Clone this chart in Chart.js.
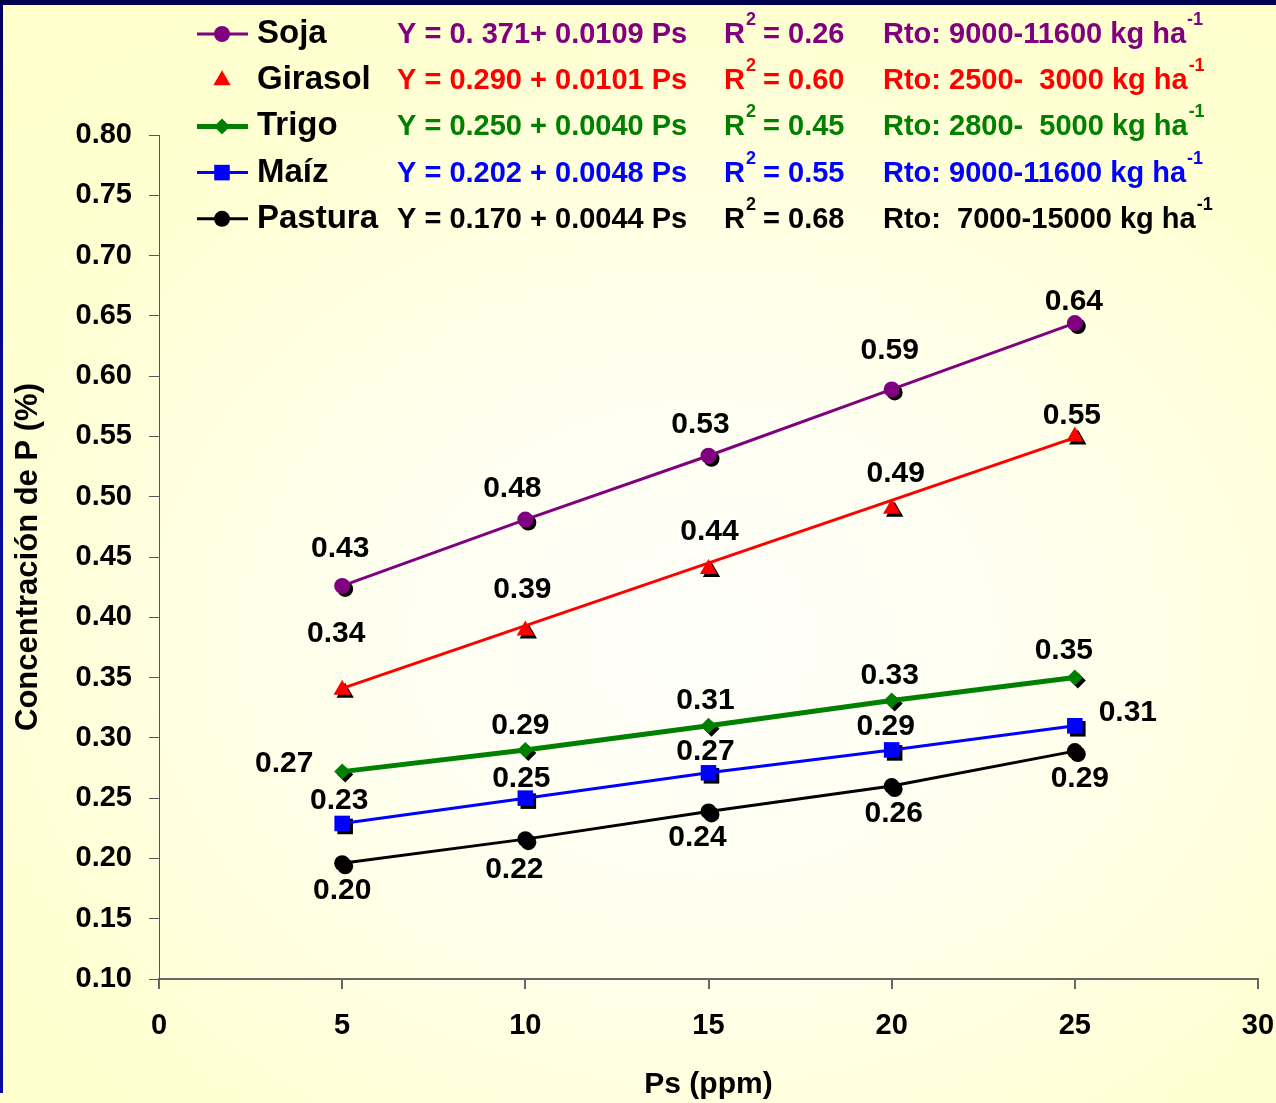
<!DOCTYPE html>
<html>
<head>
<meta charset="utf-8">
<script src="https://cdn.jsdelivr.net/npm/chart.js@4.4.1/dist/chart.umd.min.js"></script>
<style>
  html, body { margin: 0; padding: 0; }
  body {
    width: 1276px; height: 1103px; overflow: hidden; position: relative;
    background: radial-gradient(ellipse 75% 70% at 55% 58%, #fffffb 0%, #fffff0 35%, #ffffd2 80%, #ffffcc 100%);
  }
  #wrap { position: absolute; left: 0; top: 0; width: 1276px; height: 1103px; }
  .bar-top { position: absolute; left: 0; top: 0; width: 1276px; height: 5px; background: #000050; }
  .bar-left { position: absolute; left: 0; top: 5px; width: 3px; height: 1088px; background: linear-gradient(#000060, #0a0a9a 40%, #0a0aa0); }
</style>
</head>
<body>
<div class="bar-top"></div>
<div class="bar-left"></div>
<div id="wrap"><canvas id="myChart" width="1276" height="1103"></canvas></div>
<script>
'use strict';
// Ps (ppm) values on the x axis
let psValues = [5, 10, 15, 20, 25];

// P concentration (%)
let soja = [0.426, 0.481, 0.534, 0.589, 0.644];
let girasol = [0.340, 0.389, 0.440, 0.490, 0.550];
let girasolLineX = [5, 25];
let girasolLine = [0.341, 0.549];
let trigo = [0.272, 0.290, 0.310, 0.331, 0.350];
let maiz = [0.229, 0.250, 0.271, 0.290, 0.310];
let pastura = [0.196, 0.216, 0.239, 0.260, 0.289];

let yTicks = [0.10, 0.15, 0.20, 0.25, 0.30, 0.35, 0.40, 0.45, 0.50, 0.55, 0.60, 0.65, 0.70, 0.75, 0.80];
let xTicks = [0, 5, 10, 15, 20, 25, 30];

// legend texts
let names = ['Soja', 'Girasol', 'Trigo', 'Maíz', 'Pastura'];
let equations = ['Y = 0. 371+ 0.0109 Ps', 'Y = 0.290 + 0.0101 Ps', 'Y = 0.250 + 0.0040 Ps', 'Y = 0.202 + 0.0048 Ps', 'Y = 0.170 + 0.0044 Ps'];
let r2 = ['0.26', '0.60', '0.45', '0.55', '0.68'];
let rto = ['Rto: 9000-11600 kg ha', 'Rto: 2500-  3000 kg ha', 'Rto: 2800-  5000 kg ha', 'Rto: 9000-11600 kg ha', 'Rto:  7000-15000 kg ha'];

// where each value label sits relative to its point (dx, dy)
let labelOffsets = [
  [[-2, -38], [-13, -32], [-8, -32], [-2, -40], [-1, -22]],
  [[-6, -57], [-3, -42], [1, -38], [4, -36], [-3, -22]],
  [[-58, -9], [-5, -25], [-3, -26], [-2, -26], [-11, -28]],
  [[-3, -24], [-4, -20], [-3, -22], [-6, -24], [53, -14]],
  [[0, 26], [-11, 30], [-11, 25], [2, 27], [5, 27]]
];

function pts(xs, ys) {
  let out = [];
  for (let i = 0; i < xs.length; i++) {
    out.push({ x: xs[i], y: ys[i] });
  }
  return out;
}

let FONT = "'Liberation Sans', Arial, sans-serif";

let shadowPlugin = {
  id: 'markerShadow',
  beforeDatasetDraw(chart, args) {
    let ds = chart.data.datasets[args.index];
    if (!ds.shadow) return;
    let ctx = chart.ctx;
    ctx.save();
    ctx.fillStyle = '#000';
    ctx.strokeStyle = '#000';
    args.meta.data.forEach(function (el) {
      Chart.helpers.drawPoint(ctx, { pointStyle: ds.pointStyle, radius: ds.pointRadius, rotation: 0, borderWidth: 0 }, el.x + 3, el.y + 3);
    });
    ctx.restore();
  }
};

let labelPlugin = {
  id: 'valueLabels',
  afterDatasetsDraw(chart) {
    let ctx = chart.ctx;
    ctx.save();
    ctx.font = 'bold 30px ' + FONT;
    ctx.fillStyle = '#000';
    ctx.textAlign = 'center';
    ctx.textBaseline = 'middle';
    chart.data.datasets.forEach(function (ds, di) {
      if (ds.series === undefined) return;
      let meta = chart.getDatasetMeta(di);
      meta.data.forEach(function (el, i) {
        let off = labelOffsets[ds.series][i];
        ctx.fillText(ds.data[i].y.toFixed(2), el.x + off[0], el.y + off[1] + 1);
      });
    });
    ctx.restore();
  }
};

function drawSup(ctx, base, sup, x, y, color) {
  ctx.fillStyle = color;
  ctx.font = 'bold 29px ' + FONT;
  ctx.fillText(base, x, y);
  let w = ctx.measureText(base).width;
  ctx.font = 'bold 18px ' + FONT;
  ctx.fillText(sup, x + w + 1, y - 15);
  return x + w + 1 + ctx.measureText(sup).width;
}

let legendPlugin = {
  id: 'eqLegend',
  afterDraw(chart) {
    let ctx = chart.ctx;
    ctx.save();
    ctx.textBaseline = 'middle';
    ctx.textAlign = 'left';
    chart.data.datasets.forEach(function (ds) {
      if (ds.series === undefined) return;
      let row = ds.series;
      let y = 34 + row * 46.2;
      if (ds.legendLine) {
        ctx.strokeStyle = ds.borderColor;
        ctx.lineWidth = ds.borderWidth;
        ctx.beginPath();
        ctx.moveTo(197, y);
        ctx.lineTo(248, y);
        ctx.stroke();
      }
      ctx.fillStyle = ds.pointBackgroundColor;
      Chart.helpers.drawPoint(ctx, { pointStyle: ds.pointStyle, radius: ds.pointRadius, rotation: 0, borderWidth: 0 }, 222, y);

      ctx.fillStyle = '#000';
      ctx.font = 'bold 33px ' + FONT;
      ctx.fillText(names[row], 257, y);

      let c = ds.textColor;
      ctx.fillStyle = c;
      ctx.font = 'bold 29px ' + FONT;
      ctx.fillText(equations[row], 397, y + 1);
      let nx = drawSup(ctx, 'R', '2', 724, y + 1, c);
      ctx.font = 'bold 29px ' + FONT;
      ctx.fillText(' = ' + r2[row], nx - 1, y + 1);
      drawSup(ctx, rto[row], '-1', 883, y + 1, c);
    });
    ctx.restore();
  }
};

let ctx = document.getElementById('myChart').getContext('2d');
let myChart = new Chart(ctx, {
  type: 'scatter',
  data: {
    datasets: [{
      label: 'Girasol línea',
      data: pts(girasolLineX, girasolLine),
      showLine: true,
      borderColor: '#ff0000',
      borderWidth: 3,
      pointRadius: 0
    }, {
      label: 'Pastura',
      series: 4,
      data: pts(psValues, pastura),
      showLine: true,
      legendLine: true,
      shadow: true,
      textColor: '#000000',
      borderColor: '#000000',
      borderWidth: 3,
      pointStyle: 'circle',
      pointRadius: 8,
      pointBackgroundColor: '#000000',
      pointBorderWidth: 0
    }, {
      label: 'Maíz',
      series: 3,
      data: pts(psValues, maiz),
      showLine: true,
      legendLine: true,
      shadow: true,
      textColor: '#0000ff',
      borderColor: '#0000ff',
      borderWidth: 3,
      pointStyle: 'rect',
      pointRadius: 11,
      pointBackgroundColor: '#0000ff',
      pointBorderWidth: 0
    }, {
      label: 'Trigo',
      series: 2,
      data: pts(psValues, trigo),
      showLine: true,
      legendLine: true,
      shadow: true,
      textColor: '#008000',
      borderColor: '#008000',
      borderWidth: 5,
      pointStyle: 'rectRot',
      pointRadius: 8,
      pointBackgroundColor: '#008000',
      pointBorderWidth: 0
    }, {
      label: 'Girasol',
      series: 1,
      data: pts(psValues, girasol),
      showLine: false,
      legendLine: false,
      shadow: true,
      textColor: '#ff0000',
      borderColor: '#ff0000',
      borderWidth: 3,
      pointStyle: 'triangle',
      pointRadius: 10,
      pointBackgroundColor: '#ff0000',
      pointBorderWidth: 0
    }, {
      label: 'Soja',
      series: 0,
      data: pts(psValues, soja),
      showLine: true,
      legendLine: true,
      shadow: true,
      textColor: '#800080',
      borderColor: '#800080',
      borderWidth: 3,
      pointStyle: 'circle',
      pointRadius: 8,
      pointBackgroundColor: '#800080',
      pointBorderWidth: 0
    }]
  },
  options: {
    responsive: false,
    animation: false,
    devicePixelRatio: 1,
    layout: { padding: { top: 135, right: 18, left: 0, bottom: 0 } },
    plugins: {
      legend: { display: false },
      tooltip: { enabled: false }
    },
    scales: {
      x: {
        type: 'linear',
        min: 0,
        max: 30,
        afterBuildTicks: function (s) { s.ticks = xTicks.map(function (v) { return { value: v }; }); },
        afterFit: function (s) { s.height = 124; s.paddingRight = 0; s.paddingLeft = 0; },
        grid: { drawOnChartArea: false, drawTicks: true, tickLength: 10, color: '#666666', lineWidth: 2 },
        border: { display: true, color: '#666666', width: 2 },
        ticks: { color: '#000', font: { family: FONT, size: 29, weight: 'bold' }, padding: 20, maxRotation: 0 },
        title: { display: true, text: 'Ps (ppm)', color: '#000', font: { family: FONT, size: 30, weight: 'bold' }, padding: { top: 0, bottom: 0 } }
      },
      y: {
        type: 'linear',
        min: 0.10,
        max: 0.80,
        afterBuildTicks: function (s) { s.ticks = yTicks.map(function (v) { return { value: v }; }); },
        afterFit: function (s) { s.width = 159; s.paddingTop = 0; s.paddingBottom = 0; },
        grid: { drawOnChartArea: false, drawTicks: true, tickLength: 10, color: '#555555', lineWidth: 1 },
        border: { display: true, color: '#555555', width: 1 },
        ticks: {
          color: '#000',
          font: { family: FONT, size: 29, weight: 'bold' },
          padding: 17,
          callback: function (v) { return Number(v).toFixed(2); }
        },
        title: { display: true, text: 'Concentración de P (%)', color: '#000', font: { family: FONT, size: 31, weight: 'bold' }, padding: { top: 10, bottom: 0 } }
      }
    }
  },
  plugins: [shadowPlugin, labelPlugin, legendPlugin]
});
</script>
</body>
</html>
